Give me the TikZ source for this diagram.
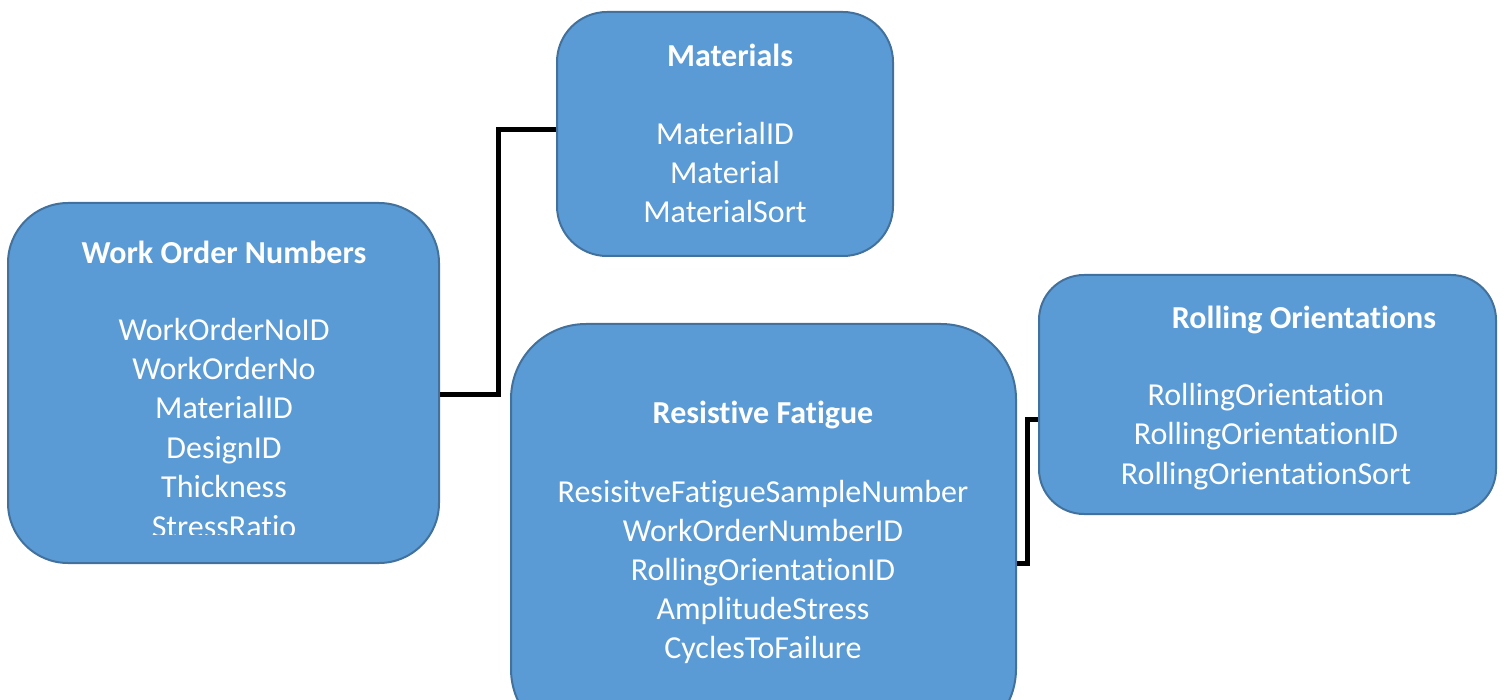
\documentclass[tikz,border=0pt]{standalone}
\usepackage{fontspec}
\setmainfont{Carlito}[Ligatures={NoCommon}]
\definecolor{boxfill}{HTML}{5B9BD5}
\definecolor{boxline}{HTML}{41719C}
\begin{document}
\begin{tikzpicture}[x=1pt,y=-1pt,
  tbl/.style={draw=boxline,fill=boxfill,line width=2pt,inner sep=0pt,rectangle},
  ttl/.style={anchor=base,text=white,inner sep=0pt,font=\fontsize{32}{38}\selectfont\bfseries},
  fld/.style={anchor=base,text=white,inner sep=0pt,font=\fontsize{32}{38}\selectfont},
  link/.style={draw=black,line width=5pt}]
\useasboundingbox (0,0) rectangle (1505,700);
\clip (0,0) rectangle (1505,700);
% boxes
\node[tbl,rounded corners=60pt,minimum width=431pt,minimum height=360pt] (won) at (223.5,383) {};
\node[tbl,rounded corners=50pt,minimum width=336pt,minimum height=244pt] (mat) at (725,134) {};
\node[tbl,rounded corners=75pt,minimum width=505pt,minimum height=420pt] (rf) at (763.5,534) {};
\node[tbl,rounded corners=45pt,minimum width=457pt,minimum height=239pt] (ro) at (1267.5,394.5) {};
% connectors
\coordinate (c1) at (498,395);
\coordinate (c2) at (498,130);
\draw[link] (won.east |- c1) -- (c1) -- (c2) -- (mat.west |- c2);
\coordinate (c3) at (1027,563);
\coordinate (c4) at (1027,420);
\draw[link] (rf.east |- c3) -- (c3) -- (c4) -- (ro.west |- c4);
% Work Order Numbers
\node[ttl] (wont) at (224,264) {Work Order Numbers};
\node[fld] (won1) at (224,341) {WorkOrderNoID};
\node[fld] (won2) at (224,380) {WorkOrderNo};
\node[fld] (won3) at (224,419) {MaterialID};
\node[fld] (won4) at (224,458) {DesignID};
\node[fld] (won5) at (224,497) {Thickness};
\begin{scope}
\clip (0,0) rectangle (1505,534);
\node[fld] (won6) at (224,537) {StressRatio};
\end{scope}
% Materials
\node[ttl] (matt) at (730,67) {Materials};
\node[fld] (mat1) at (725,145) {MaterialID};
\node[fld] (mat2) at (725,184) {Material};
\node[fld] (mat3) at (725,223) {MaterialSort};
% Resistive Fatigue
\node[ttl] (rft) at (763,424) {Resistive Fatigue};
\node[fld] (rf1) at (763,502) {ResisitveFatigueSampleNumber};
\node[fld] (rf2) at (763,541) {WorkOrderNumberID};
\node[fld] (rf3) at (763,580) {RollingOrientationID};
\node[fld] (rf4) at (763,619) {AmplitudeStress};
\node[fld] (rf5) at (763,658) {CyclesToFailure};
% Rolling Orientations
\node[ttl] (rot) at (1304,329) {Rolling Orientations};
\node[fld] (ro1) at (1266,406) {RollingOrientation};
\node[fld] (ro2) at (1266,445) {RollingOrientationID};
\node[fld] (ro3) at (1266,484) {RollingOrientationSort};
\end{tikzpicture}
\end{document}
